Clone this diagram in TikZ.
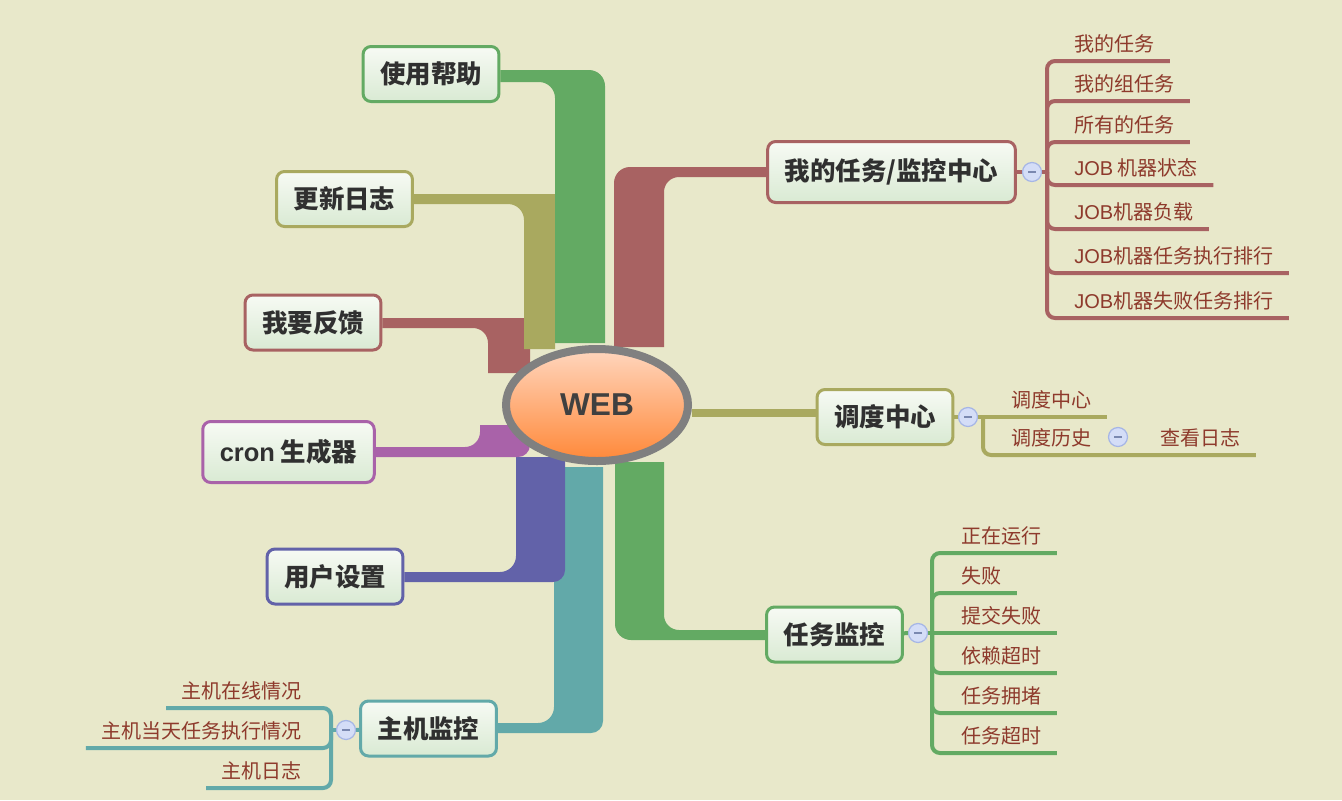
\documentclass[tikz,border=0pt]{standalone}
\usepackage{fontspec}
\setmainfont{Liberation Sans}
\newfontfamily\cjk{Noto Sans CJK SC}
\newcommand\enfont[1]{{\rmfamily #1}}
\usepackage{xcolor}
\definecolor{cBg}{HTML}{E8E8CA}
\definecolor{cGreen}{HTML}{63AA63}
\definecolor{cOlive}{HTML}{A9A95F}
\definecolor{cRed}{HTML}{A86262}
\definecolor{cPurple}{HTML}{A962A9}
\definecolor{cBlue}{HTML}{6262A9}
\definecolor{cTeal}{HTML}{62A9A9}
\definecolor{cHubRim}{HTML}{808080}
\definecolor{cHubTop}{HTML}{FFD6BE}
\definecolor{cHubBot}{HTML}{FF8838}
\definecolor{cHubText}{HTML}{404040}
\definecolor{cBoxTop}{HTML}{F7FAF4}
\definecolor{cBoxBot}{HTML}{D9EAD3}
\definecolor{cLabel}{HTML}{303030}
\definecolor{cItem}{HTML}{8E3A2C}
\definecolor{cFold}{HTML}{D4DDF7}
\definecolor{cFoldRim}{HTML}{A6B6E6}
\definecolor{cFoldBar}{HTML}{7A88B0}
\usepackage{tikz}
\usetikzlibrary{positioning,shapes.geometric,backgrounds}
\tikzset{
  node-hub/.style={ellipse,draw=cHubRim,line width=1.6mm,inner sep=0pt,
    minimum width=36.4mm,minimum height=22.4mm,top color=cHubTop,
    bottom color=cHubBot,text=cHubText,font=\bfseries\fontsize{18}{20}\selectfont},
  node-topic/.style={line width=0.6mm,rounded corners=1.6mm,
    top color=cBoxTop,bottom color=cBoxBot,inner xsep=3.4mm,
    minimum height=11mm,text=cLabel,font=\cjk\bfseries\fontsize{14.5}{17}\selectfont},
  node-item/.style={anchor=south west,inner xsep=3mm,inner ysep=0pt,
    minimum height=6.8mm,text=cItem,font=\cjk\fontsize{11.4}{13}\selectfont},
  node-item-left/.style={node-item,anchor=south east},
  node-fold/.style={circle,minimum size=3.8mm,inner sep=0pt,fill=cFold,
    draw=cFoldRim,line width=0.25mm,
    path picture={\draw[cFoldBar,line width=0.3mm]
      ([xshift=-0.8mm]path picture bounding box.center) --
      ([xshift=0.8mm]path picture bounding box.center);}},
  line-sub/.style={line width=0.8mm,rounded corners=1.6mm},
}

\begin{document}
\begin{tikzpicture}[x=0.2mm,y=-0.2mm]
  \useasboundingbox (0,0) rectangle (1342,800);
  % centre
  \node[node-hub] (web) at (597,405) {WEB};
  % left topics
  \node[node-topic,draw=cGreen] (help) at (431,74) {使用帮助};
  \node[node-topic,draw=cOlive] (log) at (344.5,199) {更新日志};
  \node[node-topic,draw=cRed] (feedback) at (313,322.5) {我要反馈};
  \node[node-topic,draw=cPurple,minimum height=12.2mm] (cron) at (288.5,452) {\enfont{cron} 生成器};
  \node[node-topic,draw=cBlue] (user) at (335,576.5) {用户设置};
  \node[node-topic,draw=cTeal] (host) at (428.5,728.5) {主机监控};
  % right topics
  \node[node-topic,draw=cRed,minimum height=12.2mm] (mytask) at (891.5,172) {我的任务/监控中心};
  \node[node-topic,draw=cOlive] (sched) at (885,417) {调度中心};
  \node[node-topic,draw=cGreen] (taskmon) at (834.5,634.5) {任务监控};

  % folds
  \node[node-fold] (fold-task) at (1032,172) {};
  \node[node-fold] (fold-sched) at (968,417) {};
  \node[node-fold] (fold-hist) at (1118,437) {};
  \node[node-fold] (fold-mon) at (918,633) {};
  \node[node-fold] (fold-host) at (346,730) {};
  \coordinate (jn-task) at (1047,172);
  \coordinate (jn-sched) at (983,417);
  \coordinate (jn-mon) at (932,633);
  \coordinate (jn-host) at (331,730);

  % items
  \node[node-item] (task-mine) at (1059,61) {我的任务};
  \node[node-item] (task-group) at (1059,101) {我的组任务};
  \node[node-item] (task-all) at (1059,142) {所有的任务};
  \node[node-item] (job-state) at (1059,185) {\enfont{JOB} 机器状态};
  \node[node-item] (job-load) at (1059,229) {\enfont{JOB}机器负载};
  \node[node-item] (job-rank) at (1059,273) {\enfont{JOB}机器任务执行排行};
  \node[node-item] (job-fail) at (1059,318) {\enfont{JOB}机器失败任务排行};
  \node[node-item] (sched-center) at (996,417) {调度中心};
  \node[node-item] (sched-hist) at (996,455) {调度历史};
  \node[node-item] (log-view) at (1145,455) {查看日志};
  \node[node-item] (mon-run) at (946,553) {正在运行};
  \node[node-item] (mon-fail) at (946,593) {失败};
  \node[node-item] (mon-submit) at (946,633) {提交失败};
  \node[node-item] (mon-dep) at (946,673) {依赖超时};
  \node[node-item] (mon-block) at (946,713) {任务拥堵};
  \node[node-item] (mon-timeout) at (946,753) {任务超时};
  \node[node-item-left] (host-online) at (317,708) {主机在线情况};
  \node[node-item-left] (host-today) at (317,748) {主机当天任务执行情况};
  \node[node-item-left] (host-log) at (317,788) {主机日志};

  % thin connectors
  \draw[line-sub,cRed] (mytask) -- (fold-task);
  \draw[line-sub,cRed] (fold-task) -- (jn-task);
  \draw[line-sub,cRed] (jn-task) |- (task-mine.south east);
  \draw[line-sub,cRed] (jn-task) |- (task-group.south east);
  \draw[line-sub,cRed] (jn-task) |- (task-all.south east);
  \draw[line-sub,cRed] (jn-task) |- (job-state.south east);
  \draw[line-sub,cRed] (jn-task) |- (job-load.south east);
  \draw[line-sub,cRed] (jn-task) |- (job-rank.south east);
  \draw[line-sub,cRed] (jn-task) |- (job-fail.south east);
  \draw[line-sub,cOlive] (sched) -- (fold-sched);
  \draw[line-sub,cOlive] (fold-sched) -- (jn-sched);
  \draw[line-sub,cOlive] (jn-sched) -- (sched-center.south east);
  \draw[line-sub,cOlive] (jn-sched) |- (sched-hist.south east) -- (log-view.south east);
  \draw[line-sub,cGreen] (taskmon) -- (fold-mon);
  \draw[line-sub,cGreen] (fold-mon) -- (jn-mon);
  \draw[line-sub,cGreen] (jn-mon) |- (mon-run.south east);
  \draw[line-sub,cGreen] (jn-mon) |- (mon-fail.south east);
  \draw[line-sub,cGreen] (jn-mon) -- (mon-submit.south east);
  \draw[line-sub,cGreen] (jn-mon) |- (mon-dep.south east);
  \draw[line-sub,cGreen] (jn-mon) |- (mon-block.south east);
  \draw[line-sub,cGreen] (jn-mon) |- (mon-timeout.south east);
  \draw[line-sub,cTeal] (host) -- (fold-host);
  \draw[line-sub,cTeal] (fold-host) -- (jn-host);
  \draw[line-sub,cTeal] (jn-host) |- (host-online.south west);
  \draw[line-sub,cTeal] (jn-host) |- (host-today.south west);
  \draw[line-sub,cTeal] (jn-host) |- (host-log.south west);

  % thick branches
  \begin{scope}[on background layer]
    \fill[cBg] (0,0) rectangle (1342,800);
    \fill[cRed] (feedback.east |- 0,318) -- (530,318) -- (530,373) -- (488,373)
      [rounded corners=3mm] -- (488,328) [sharp corners] -- (feedback.east |- 0,328) -- cycle;
    \fill[cOlive] (log.east |- 0,194) -- (555,194) -- (555,349) -- (524,349)
      [rounded corners=3.2mm] -- (524,204) [sharp corners] -- (log.east |- 0,204) -- cycle;
    \fill[cGreen] (help.east |- 0,70) [rounded corners=3.2mm] -- (605,70) [sharp corners]
      -- (605,343) -- (555,343) [rounded corners=3.2mm] -- (555,82) [sharp corners]
      -- (help.east |- 0,82) -- cycle;
    \fill[cTeal] (host.east |- 0,723) [rounded corners=3.2mm] -- (554,723) [sharp corners]
      -- (554,467) -- (603,467) [rounded corners=2.4mm] -- (603,733) [sharp corners]
      -- (host.east |- 0,733) -- cycle;
    \fill[cBlue] (user.east |- 0,572) [rounded corners=3.2mm] -- (516,572) [sharp corners]
      -- (516,457) -- (565,457) [rounded corners=2.4mm] -- (565,582) [sharp corners]
      -- (user.east |- 0,582) -- cycle;
    \fill[cPurple] (cron.east |- 0,447) [rounded corners=3mm] -- (480,447) [sharp corners]
      -- (480,425) -- (530,425) [rounded corners=2.4mm] -- (530,457) [sharp corners]
      -- (cron.east |- 0,457) -- cycle;
    \fill[cRed] (mytask.west |- 0,167) [rounded corners=3.2mm] -- (614,167) [sharp corners]
      -- (614,347) -- (664,347) [rounded corners=3mm] -- (664,177) [sharp corners]
      -- (mytask.west |- 0,177) -- cycle;
    \fill[cOlive] (web.east |- 0,409) rectangle (sched.west |- 0,417);
    \fill[cGreen] (taskmon.west |- 0,630) [rounded corners=3mm] -- (664,630) [sharp corners]
      -- (664,462) -- (615,462) [rounded corners=3.2mm] -- (615,640) [sharp corners]
      -- (taskmon.west |- 0,640) -- cycle;
  \end{scope}
\end{tikzpicture}
\end{document}
